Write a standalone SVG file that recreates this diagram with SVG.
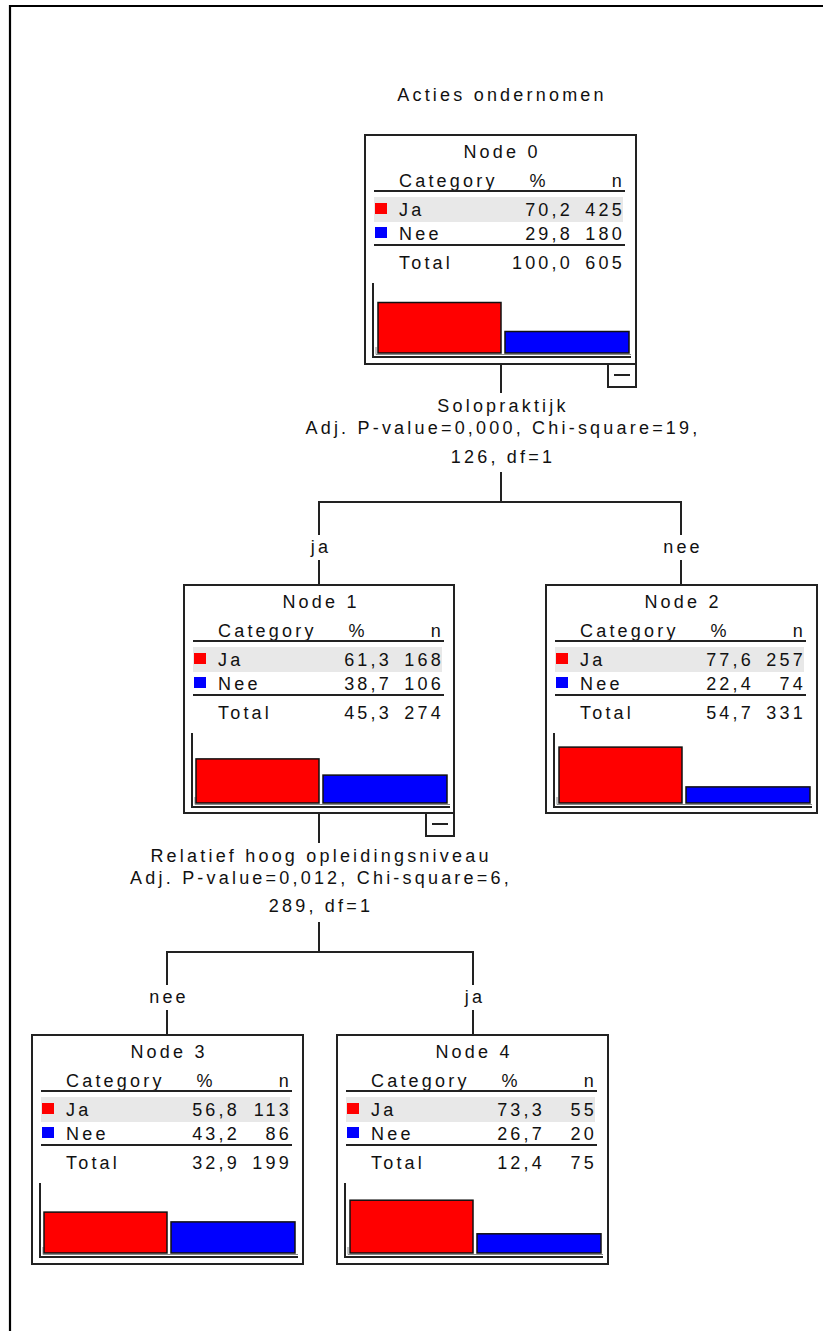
<svg xmlns="http://www.w3.org/2000/svg" width="823" height="1331" viewBox="0 0 823 1331">
<defs>
<style>
text{font-family:"Liberation Sans",Arial,sans-serif;font-size:18px;letter-spacing:3.2px;fill:#111}
.m{text-anchor:middle}
.e{text-anchor:end}
.box{fill:#fff;stroke:#222;stroke-width:2}
.rule{stroke:#222;stroke-width:2}
.row{fill:#e8e8e8}
.red{fill:#ff0000}
.blue{fill:#0000ff}
.bar{stroke:#111;stroke-width:1.5}
.axis{fill:none;stroke:#222;stroke-width:2}
.axis2{fill:none;stroke:#888;stroke-width:1}
.con{stroke:#222;stroke-width:2;fill:none}
.btn{fill:#fff;stroke:#222;stroke-width:2}
</style>
</defs>
<rect width="823" height="1331" fill="#fff"/>
<path d="M10,1331 V6 H823" fill="none" stroke="#000" stroke-width="2.2"/>
<text class="m" x="502" y="101">Acties ondernomen</text>

<g id="connectors">
<path class="con" d="M501,364 V393 M501,472 V502 M318,502 H682 M319,502 V535 M319,560 V585 M681,502 V535 M681,560 V585"/>
<path class="con" d="M319,813 V843 M319,922 V952 M166,952 H474 M167,952 V985 M167,1010 V1035 M473,952 V985 M473,1010 V1035"/>
<text class="m" x="503" y="412">Solopraktijk</text>
<text class="m" x="503" y="434">Adj. P-value=0,000, Chi-square=19,</text>
<text class="m" x="503" y="463">126, df=1</text>
<text class="m" x="321" y="553">ja</text>
<text class="m" x="683" y="553">nee</text>
<text class="m" x="321" y="862">Relatief hoog opleidingsniveau</text>
<text class="m" x="321" y="884">Adj. P-value=0,012, Chi-square=6,</text>
<text class="m" x="321" y="912">289, df=1</text>
<text class="m" x="169" y="1003">nee</text>
<text class="m" x="475" y="1003">ja</text>
</g>

<g id="node0" transform="translate(365,135)">
<rect class="box" x="0" y="0" width="271" height="229"/>
<text class="m" x="137" y="23">Node 0</text>
<text x="34" y="52">Category</text><text class="m" x="174" y="52">%</text><text class="e" x="260" y="52">n</text>
<line class="rule" x1="9" y1="56" x2="260" y2="56"/>
<rect class="row" x="9" y="62" width="249" height="25"/>
<rect class="red" x="10" y="68" width="12" height="11"/>
<text x="34" y="81">Ja</text><text class="e" x="208" y="81">70,2</text><text class="e" x="260" y="81">425</text>
<rect class="blue" x="10" y="92" width="12" height="11"/>
<text x="34" y="105">Nee</text><text class="e" x="208" y="105">29,8</text><text class="e" x="260" y="105">180</text>
<line class="rule" x1="9" y1="110" x2="260" y2="110"/>
<text x="34" y="134">Total</text><text class="e" x="208" y="134">100,0</text><text class="e" x="260" y="134">605</text>
<path class="axis" d="M8,148 V222 H266"/>
<path class="axis2" d="M11,212 V219.5 H266"/>
<rect class="red bar" x="13" y="167.5" width="123" height="50.5"/>
<rect class="blue bar" x="140" y="196.5" width="124" height="21.5"/>
</g>
<g id="node0-toggle">
<rect class="btn" x="608" y="364" width="28" height="23"/>
<line class="rule" x1="614" y1="375" x2="630" y2="375"/>
</g>

<g id="node1" transform="translate(184,585)">
<rect class="box" x="0" y="0" width="270" height="228"/>
<text class="m" x="137" y="23">Node 1</text>
<text x="34" y="52">Category</text><text class="m" x="174" y="52">%</text><text class="e" x="260" y="52">n</text>
<line class="rule" x1="9" y1="56" x2="260" y2="56"/>
<rect class="row" x="9" y="62" width="249" height="25"/>
<rect class="red" x="10" y="68" width="12" height="11"/>
<text x="34" y="81">Ja</text><text class="e" x="208" y="81">61,3</text><text class="e" x="260" y="81">168</text>
<rect class="blue" x="10" y="92" width="12" height="11"/>
<text x="34" y="105">Nee</text><text class="e" x="208" y="105">38,7</text><text class="e" x="260" y="105">106</text>
<line class="rule" x1="9" y1="110" x2="260" y2="110"/>
<text x="34" y="134">Total</text><text class="e" x="208" y="134">45,3</text><text class="e" x="260" y="134">274</text>
<path class="axis" d="M8,148 V222 H266"/>
<path class="axis2" d="M11,212 V219.5 H266"/>
<rect class="red bar" x="12" y="173.9" width="123" height="44.1"/>
<rect class="blue bar" x="139" y="190.1" width="124" height="27.9"/>
</g>
<g id="node1-toggle">
<rect class="btn" x="426" y="813" width="28" height="23"/>
<line class="rule" x1="432" y1="824" x2="448" y2="824"/>
</g>

<g id="node2" transform="translate(546,585)">
<rect class="box" x="0" y="0" width="271" height="228"/>
<text class="m" x="137" y="23">Node 2</text>
<text x="34" y="52">Category</text><text class="m" x="174" y="52">%</text><text class="e" x="260" y="52">n</text>
<line class="rule" x1="9" y1="56" x2="260" y2="56"/>
<rect class="row" x="9" y="62" width="249" height="25"/>
<rect class="red" x="10" y="68" width="12" height="11"/>
<text x="34" y="81">Ja</text><text class="e" x="208" y="81">77,6</text><text class="e" x="260" y="81">257</text>
<rect class="blue" x="10" y="92" width="12" height="11"/>
<text x="34" y="105">Nee</text><text class="e" x="208" y="105">22,4</text><text class="e" x="260" y="105">74</text>
<line class="rule" x1="9" y1="110" x2="260" y2="110"/>
<text x="34" y="134">Total</text><text class="e" x="208" y="134">54,7</text><text class="e" x="260" y="134">331</text>
<path class="axis" d="M8,148 V222 H266"/>
<path class="axis2" d="M11,212 V219.5 H266"/>
<rect class="red bar" x="13" y="162.1" width="123" height="55.9"/>
<rect class="blue bar" x="140" y="201.9" width="124" height="16.1"/>
</g>

<g id="node3" transform="translate(32,1035)">
<rect class="box" x="0" y="0" width="271" height="229"/>
<text class="m" x="137" y="23">Node 3</text>
<text x="34" y="52">Category</text><text class="m" x="174" y="52">%</text><text class="e" x="260" y="52">n</text>
<line class="rule" x1="9" y1="56" x2="260" y2="56"/>
<rect class="row" x="9" y="62" width="249" height="25"/>
<rect class="red" x="10" y="68" width="12" height="11"/>
<text x="34" y="81">Ja</text><text class="e" x="208" y="81">56,8</text><text class="e" x="260" y="81">113</text>
<rect class="blue" x="10" y="92" width="12" height="11"/>
<text x="34" y="105">Nee</text><text class="e" x="208" y="105">43,2</text><text class="e" x="260" y="105">86</text>
<line class="rule" x1="9" y1="110" x2="260" y2="110"/>
<text x="34" y="134">Total</text><text class="e" x="208" y="134">32,9</text><text class="e" x="260" y="134">199</text>
<path class="axis" d="M8,148 V222 H266"/>
<path class="axis2" d="M11,212 V219.5 H266"/>
<rect class="red bar" x="12" y="177.1" width="123" height="40.9"/>
<rect class="blue bar" x="139" y="186.9" width="124" height="31.1"/>
</g>

<g id="node4" transform="translate(337,1035)">
<rect class="box" x="0" y="0" width="271" height="229"/>
<text class="m" x="137" y="23">Node 4</text>
<text x="34" y="52">Category</text><text class="m" x="174" y="52">%</text><text class="e" x="260" y="52">n</text>
<line class="rule" x1="9" y1="56" x2="260" y2="56"/>
<rect class="row" x="9" y="62" width="249" height="25"/>
<rect class="red" x="10" y="68" width="12" height="11"/>
<text x="34" y="81">Ja</text><text class="e" x="208" y="81">73,3</text><text class="e" x="260" y="81">55</text>
<rect class="blue" x="10" y="92" width="12" height="11"/>
<text x="34" y="105">Nee</text><text class="e" x="208" y="105">26,7</text><text class="e" x="260" y="105">20</text>
<line class="rule" x1="9" y1="110" x2="260" y2="110"/>
<text x="34" y="134">Total</text><text class="e" x="208" y="134">12,4</text><text class="e" x="260" y="134">75</text>
<path class="axis" d="M8,148 V222 H266"/>
<path class="axis2" d="M11,212 V219.5 H266"/>
<rect class="red bar" x="13" y="165.2" width="123" height="52.8"/>
<rect class="blue bar" x="140" y="198.8" width="124" height="19.2"/>
</g>
</svg>
